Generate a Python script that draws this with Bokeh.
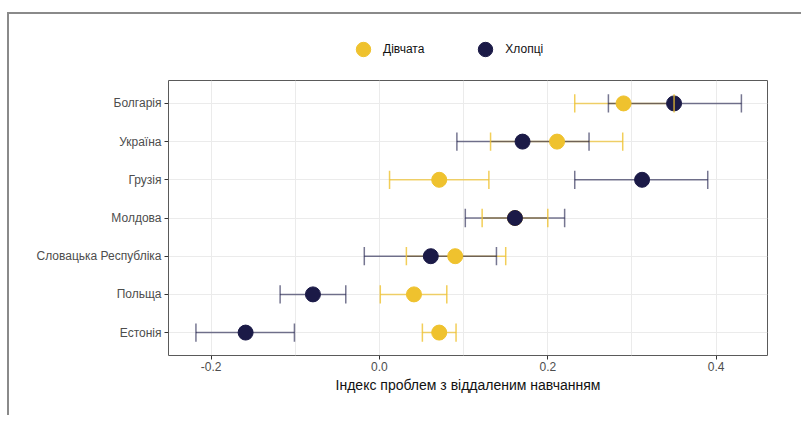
from bokeh.plotting import figure
from bokeh.layouts import column
from bokeh.models import ColumnDataSource, FactorRange, FixedTicker, Legend, LegendItem, Range1d
from bokeh.transform import dodge
from bokeh.embed import file_html
from bokeh.resources import INLINE

# Data (bottom to top)
countries = ["Естонія", "Польща", "Словацька Республіка", "Молдова", "Грузія", "Україна", "Болгарія"]
girls_mean = [0.071, 0.041, 0.090, 0.161, 0.071, 0.211, 0.290]
girls_lo = [0.051, 0.001, 0.032, 0.122, 0.012, 0.132, 0.232]
girls_hi = [0.091, 0.080, 0.150, 0.200, 0.130, 0.289, 0.350]
boys_mean = [-0.159, -0.079, 0.061, 0.161, 0.312, 0.170, 0.350]
boys_lo = [-0.218, -0.118, -0.018, 0.102, 0.232, 0.092, 0.272]
boys_hi = [-0.101, -0.040, 0.139, 0.220, 0.390, 0.249, 0.430]
x_ticks = [-0.2, 0.0, 0.2, 0.4]
x_minor = [-0.1, 0.1, 0.3]
series_labels = ["Дівчата", "Хлопці"]
x_title = "Індекс проблем з віддаленим навчанням"

GIRL = "#EFC22E"
BOY = "#1B1A47"
FONT = "Liberation Sans"

p = figure(
    y_range=FactorRange(factors=countries, range_padding=0.1, range_padding_units="absolute"),
    x_range=(-0.2506, 0.461),
    frame_width=599, frame_height=275,
    min_border_left=159, min_border_right=34, min_border_top=0, min_border_bottom=60,
    output_backend="svg", toolbar_location=None,
)
p.background_fill_color = "white"
p.border_fill_color = "white"
p.outline_line_color = "#5a5a5a"
p.outline_line_width = 1

g = ColumnDataSource(dict(c=countries, m=girls_mean, lo=girls_lo, hi=girls_hi))
b = ColumnDataSource(dict(c=countries, m=boys_mean, lo=boys_lo, hi=boys_hi))

# horizontal error lines
p.segment(x0="lo", x1="hi", y0="c", y1="c", source=g, line_color=GIRL, line_width=1.5, line_alpha=0.7)
p.segment(x0="lo", x1="hi", y0="c", y1="c", source=b, line_color=BOY, line_width=1.5, line_alpha=0.6)

# points
p.scatter(x="m", y="c", source=g, size=15, fill_color=GIRL, line_color=GIRL)
p.scatter(x="m", y="c", source=b, size=15, fill_color=BOY, line_color=BOY)

# caps
for src, col, a in ((b, BOY, 0.6), (g, GIRL, 0.8)):
    for key in ("lo", "hi"):
        p.segment(x0=key, x1=key,
                  y0=dodge("c", -0.24, range=p.y_range), y1=dodge("c", 0.24, range=p.y_range),
                  source=src, line_color=col, line_width=1.5, line_alpha=a)

# axes
p.xaxis.ticker = FixedTicker(ticks=x_ticks, minor_ticks=x_minor)
p.xaxis.major_label_overrides = {t: f"{t:.1f}" for t in x_ticks}
p.xaxis.axis_label = x_title
p.xaxis.axis_label_text_font = FONT
p.xaxis.axis_label_text_font_size = "14px"
p.xaxis.axis_label_text_font_style = "normal"
p.xaxis.axis_label_text_color = "#111111"
p.xaxis.axis_label_standoff = 3
for ax in (p.xaxis, p.yaxis):
    ax.major_label_text_font = FONT
    ax.major_label_text_font_size = "12px"
    ax.major_label_text_color = "#4D4D4D"
    ax.major_tick_line_color = "#333333"
    ax.major_tick_out = 4
    ax.major_tick_in = 0
    ax.minor_tick_line_color = None
    ax.axis_line_color = None
    ax.major_label_standoff = 3
p.xaxis.major_label_standoff = 2

p.xgrid.grid_line_color = "#EBEBEB"
p.xgrid.minor_grid_line_color = "#EBEBEB"
p.ygrid.grid_line_color = "#EBEBEB"

# legend strip above the plot (key glyphs only; their data lie outside the view)
lf = figure(width=792, height=66, x_axis_type=None, y_axis_type=None,
            x_range=Range1d(0, 1), y_range=Range1d(0, 1),
            min_border=0, output_backend="svg", toolbar_location=None)
lf.outline_line_color = None
lf.grid.visible = False
lf.background_fill_color = "white"
lf.border_fill_color = "white"
key = dict(x0=[-10.0], y0=[-10.0])
lgp = lf.scatter(x="x0", y="y0", source=ColumnDataSource(key), size=15, fill_color=GIRL, line_color=GIRL)
lbp = lf.scatter(x="x0", y="y0", source=ColumnDataSource(key), size=15, fill_color=BOY, line_color=BOY)

legend = Legend(items=[
    LegendItem(label=series_labels[0], renderers=[lgp]),
    LegendItem(label=series_labels[1], renderers=[lbp]),
], location=(177, 13), orientation="horizontal")
legend.glyph_width = 36
legend.glyph_height = 36
legend.label_standoff = 2
legend.spacing = 43
legend.padding = 0
legend.margin = 0
legend.border_line_color = None
legend.background_fill_alpha = 0
legend.label_text_font = FONT
legend.label_text_font_size = "12px"
legend.label_text_color = "#111111"
lf.add_layout(legend, "center")

layout = column(lf, p, spacing=0)
layout.styles = {"margin-top": "12px", "margin-left": "7px",
                 "border-left": "2px solid #8a8a8a", "border-top": "2px solid #8a8a8a"}

open("out.html", "w").write(file_html(layout, INLINE))
